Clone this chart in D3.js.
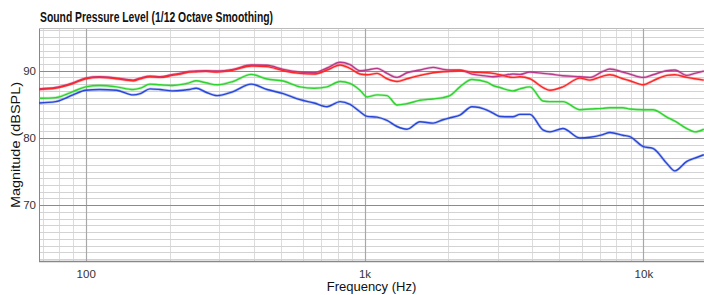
<!DOCTYPE html>
<html>
<head>
<meta charset="utf-8">
<script src="https://cdn.jsdelivr.net/npm/d3@7"></script>
<style>
  html, body { margin: 0; padding: 0; background: #fff; }
  svg { display: block; }
  text { font-family: "Liberation Sans Narrow", "Arial Narrow", "Liberation Sans", Arial, sans-serif; }
</style>
</head>
<body>
<svg id="chart" width="704" height="295"></svg>
<script>
// ---------- data ----------
const title = "Sound Pressure Level (1/12 Octave Smoothing)";
const xTitle = "Frequency (Hz)";
const yTitle = "Magnitude (dBSPL)";

const freqHz = [68, 78, 90, 100, 112, 129, 148, 157, 170, 185, 204, 224, 235, 249, 270, 296, 338, 392, 447, 511,
  587, 659, 734, 817, 887, 963, 1021, 1109, 1204, 1308, 1420, 1581, 1761, 1911, 2025, 2199, 2428, 2748, 2888, 3059,
  3406, 3609, 3920, 4364, 4623, 5147, 5923, 6430, 7158, 7585, 8445, 8946, 10000, 10815, 12143, 12972, 14320, 15297, 16477];

const redDb = [87.2, 87.4, 88.1, 88.8, 89.0, 88.8, 88.5, 88.8, 89.1, 89.0, 89.3, 89.6, 89.8, 89.85, 89.9, 89.8, 90.1, 90.7, 90.6, 90.0,
  89.6, 89.5, 90.1, 90.85, 90.35, 89.5, 89.4, 89.6, 88.8, 88.4, 88.8, 89.3, 89.7, 89.85, 89.9, 90.0, 89.8, 89.7, 89.6, 89.4,
  89.0, 89.1, 88.8, 87.5, 87.1, 87.6, 88.9, 88.6, 89.2, 89.4, 88.8, 88.5, 87.9, 88.5, 89.3, 89.4, 89.0, 88.8, 88.6];

const magentaDb = [87.3, 87.5, 88.2, 88.9, 89.1, 88.9, 88.6, 88.9, 89.2, 89.1, 89.4, 89.7, 89.9, 89.95, 90.0, 89.95, 90.2, 90.85, 90.8, 90.2,
  89.8, 89.7, 90.4, 91.25, 90.9, 90.0, 90.1, 90.35, 89.6, 89.0, 89.7, 90.1, 90.5, 90.2, 90.1, 90.1, 89.5, 89.2, 89.1, 89.2,
  89.5, 89.45, 89.8, 89.6, 89.5, 89.25, 89.1, 89.0, 89.9, 90.25, 89.8, 89.5, 89.0, 89.4, 90.0, 90.1, 89.3, 89.6, 89.95];

const greenDb = [85.9, 86.0, 86.9, 87.6, 87.8, 87.6, 87.2, 87.4, 88.0, 87.9, 87.8, 88.0, 88.2, 88.5, 88.2, 87.9, 88.4, 89.45, 88.76, 88.47,
  87.6, 87.4, 87.6, 88.4, 88.1, 87.1, 86.1, 86.4, 86.3, 84.9, 85.1, 85.6, 85.8, 86.0, 86.3, 87.6, 88.7, 88.3, 87.8, 87.5,
  87.0, 87.3, 87.6, 85.5, 85.4, 85.4, 84.2, 84.3, 84.4, 84.5, 84.5, 84.3, 84.2, 84.2, 83.1, 82.5, 81.4, 80.9, 81.3];

const blueDb = [85.2, 85.4, 86.4, 87.1, 87.2, 87.1, 86.4, 86.6, 87.3, 87.2, 87.0, 87.1, 87.2, 87.4, 86.8, 86.3, 86.9, 88.0, 87.2, 86.6,
  85.7, 85.2, 84.65, 85.4, 85.0, 83.9, 83.2, 83.1, 82.6, 81.7, 81.3, 82.4, 82.2, 82.7, 83.0, 83.4, 84.65, 84.15, 83.7, 83.2,
  83.15, 83.5, 83.5, 81.2, 80.9, 81.4, 80.0, 80.1, 80.5, 80.8, 80.4, 80.2, 78.7, 78.45, 76.2, 75.1, 76.5, 77.0, 77.5];

const xTickValues = [100, 1000, 10000];
const xTickLabels = ["100", "1k", "10k"];
const yTickValues = [70, 80, 90];

const xDomain = [68, 16500];
const yDomain = [61.7, 96.35];

const series = [
  { name: "blue", values: blueDb, color: "#2747d8" },
  { name: "green", values: greenDb, color: "#2ed42e" },
  { name: "magenta", values: magentaDb, color: "#b83a8c" },
  { name: "red", values: redDb, color: "#ff2626" }
];

// ---------- layout ----------
const svg = d3.select("#chart");
const plot = { left: 39, right: 704, top: 28, bottom: 261 };

const x = d3.scaleLog().domain(xDomain).range([plot.left, plot.right]);
const y = d3.scaleLinear().domain(yDomain).range([plot.bottom, plot.top]);

const g = svg.append("g");

svg.append("defs").append("clipPath").attr("id", "clip")
  .append("rect").attr("x", plot.left).attr("y", plot.top)
  .attr("width", plot.right - plot.left).attr("height", plot.bottom - plot.top);

// minor vertical grid
const minorX = [];
[10, 100, 1000, 10000].forEach(d => { for (let k = 2; k <= 9; k++) minorX.push(d * k); });
g.append("g").selectAll("line").data(minorX.filter(v => v > xDomain[0] && v < xDomain[1]))
  .join("line")
  .attr("x1", d => Math.round(x(d)) + 0.5).attr("x2", d => Math.round(x(d)) + 0.5)
  .attr("y1", plot.top).attr("y2", plot.bottom)
  .attr("stroke", "#dcdcdc").attr("stroke-width", 1);

// minor horizontal grid
const minorY = d3.range(Math.ceil(yDomain[0]), Math.floor(yDomain[1]) + 1).filter(v => v % 10 !== 0);
g.append("g").selectAll("line").data(minorY)
  .join("line")
  .attr("x1", plot.left).attr("x2", plot.right)
  .attr("y1", d => Math.round(y(d)) + 0.5).attr("y2", d => Math.round(y(d)) + 0.5)
  .attr("stroke", "#d3d3d3").attr("stroke-width", 1);

// major grids
g.append("g").selectAll("line").data(xTickValues)
  .join("line")
  .attr("x1", d => Math.round(x(d)) + 0.5).attr("x2", d => Math.round(x(d)) + 0.5)
  .attr("y1", plot.top).attr("y2", plot.bottom)
  .attr("stroke", "#a8a8a8").attr("stroke-width", 1.2);

g.append("g").selectAll("line").data(yTickValues)
  .join("line")
  .attr("x1", plot.left).attr("x2", plot.right)
  .attr("y1", d => Math.round(y(d)) + 0.5).attr("y2", d => Math.round(y(d)) + 0.5)
  .attr("stroke", "#8c8c8c").attr("stroke-width", 1.2);

// frame
g.append("line").attr("x1", plot.left + 0.5).attr("x2", plot.left + 0.5)
  .attr("y1", plot.top).attr("y2", plot.bottom + 1).attr("stroke", "#888");
g.append("line").attr("x1", plot.left).attr("x2", plot.right)
  .attr("y1", plot.top + 0.5).attr("y2", plot.top + 0.5).attr("stroke", "#bbb");
g.append("line").attr("x1", plot.left).attr("x2", plot.right)
  .attr("y1", plot.bottom + 0.5).attr("y2", plot.bottom + 0.5).attr("stroke", "#888").attr("stroke-width", 1.5);

// lines
const line = d3.line().x((d, i) => x(freqHz[i])).y(d => y(d)).curve(d3.curveMonotoneX);
const lg = g.append("g").attr("clip-path", "url(#clip)");
series.forEach(s => {
  lg.append("path").attr("d", line(s.values)).attr("fill", "none")
    .attr("stroke", s.color).attr("stroke-width", 2.8).attr("stroke-opacity", 0.3)
    .attr("stroke-linejoin", "round");
  lg.append("path").attr("d", line(s.values)).attr("fill", "none")
    .attr("stroke", s.color).attr("stroke-width", 1.4)
    .attr("stroke-linejoin", "round");
});

// axes
const xAxis = d3.axisBottom(x).tickValues(xTickValues).tickFormat((d, i) => xTickLabels[i]).tickSize(0).tickPadding(9);
const xa = svg.append("g").attr("transform", `translate(0,${plot.bottom})`).call(xAxis);
xa.select(".domain").remove();
xa.selectAll("text").attr("font-size", 11.5).attr("fill", "#333")
  .style("font-family", '"Liberation Sans Narrow", "Liberation Sans", Arial, sans-serif');

const yAxis = d3.axisLeft(y).tickValues(yTickValues).tickFormat(d3.format("d")).tickSize(0).tickPadding(3);
const ya = svg.append("g").attr("transform", `translate(${plot.left},0)`).call(yAxis);
ya.select(".domain").remove();
ya.selectAll("text").attr("font-size", 11.5).attr("fill", "#333")
  .style("font-family", '"Liberation Sans Narrow", "Liberation Sans", Arial, sans-serif');

// titles
svg.append("text").attr("x", 40).attr("y", 22).text(title)
  .attr("font-size", 15.5).attr("font-weight", "bold").attr("fill", "#111")
  .attr("textLength", 233).attr("lengthAdjust", "spacingAndGlyphs");

svg.append("text").attr("x", (plot.left + plot.right) / 2).attr("y", 291)
  .attr("text-anchor", "middle").text(xTitle)
  .attr("font-size", 13).attr("fill", "#111");

svg.append("text").attr("transform", `translate(20,${145}) rotate(-90)`)
  .attr("text-anchor", "middle").text(yTitle)
  .attr("font-size", 13).attr("fill", "#111")
  .style("font-family", '"Liberation Sans", Arial, sans-serif')
  .attr("textLength", 126).attr("lengthAdjust", "spacingAndGlyphs");
</script>
</body>
</html>
